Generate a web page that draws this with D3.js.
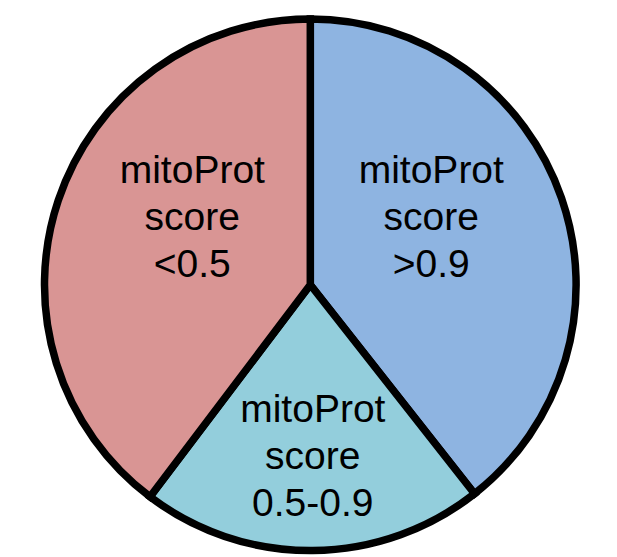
<!DOCTYPE html>
<html>
<head>
<meta charset="utf-8">
<script src="https://cdn.jsdelivr.net/npm/d3@7"></script>
<style>
  html, body { margin: 0; padding: 0; background: #fff; }
  svg { display: block; }
</style>
</head>
<body>
<div id="pieContainer"></div>
<script>
// slices, clockwise from 12 o'clock
var categories = [">0.9", "0.5-0.9", "<0.5"];
var shares = [39.4, 20.9, 39.7];
var colors = ["#8eb4e1", "#93cedc", "#d99594"];
var labelLines = [
  ["mitoProt", "score", ">0.9"],
  ["mitoProt", "score", "0.5-0.9"],
  ["mitoProt", "score", "<0.5"]
];

var width = 617, height = 557;
var cx = 310.3, cy = 284.8, radius = 265.8;

// baseline of each label's middle line, relative to the pie centre
var labelOffset = [
  { x: 121,  y: -55 },
  { x: 2.5,  y: 184 },
  { x: -118, y: -55 }
];
var lineGap = 47;

var svg = d3.select('#pieContainer')
  .append('svg')
    .attr('width', width)
    .attr('height', height)
  .append('g')
    .attr('transform', 'translate(' + cx + ',' + cy + ')');

var pie = d3.pie()
  .sort(null)
  .value(function(d) { return d; });

var arc = d3.arc()
  .innerRadius(0)
  .outerRadius(radius);

var arcs = pie(shares);

svg.selectAll('.slice')
  .data(arcs)
  .enter()
  .append('path')
    .attr('class', 'slice')
    .attr('d', arc)
    .attr('fill', function(d, i) { return colors[i]; })
    .attr('stroke', '#000')
    .attr('stroke-width', 7.5)
    .attr('stroke-linejoin', 'miter');

///////////////////// labels //////////////////////////////
var labels = svg.selectAll('.label')
  .data(arcs)
  .enter()
  .append('g')
    .attr('class', 'label');

labels.each(function(d, i) {
  var g = d3.select(this);
  labelLines[i].forEach(function(t, j) {
    g.append('text')
      .attr('x', labelOffset[i].x)
      .attr('y', labelOffset[i].y + (j - 1) * lineGap)
      .attr('text-anchor', 'middle')
      .attr('font-family', 'Liberation Sans, Arial, sans-serif')
      .attr('font-size', 39)
      .attr('fill', '#000')
      .text(t);
  });
});
</script>
</body>
</html>
